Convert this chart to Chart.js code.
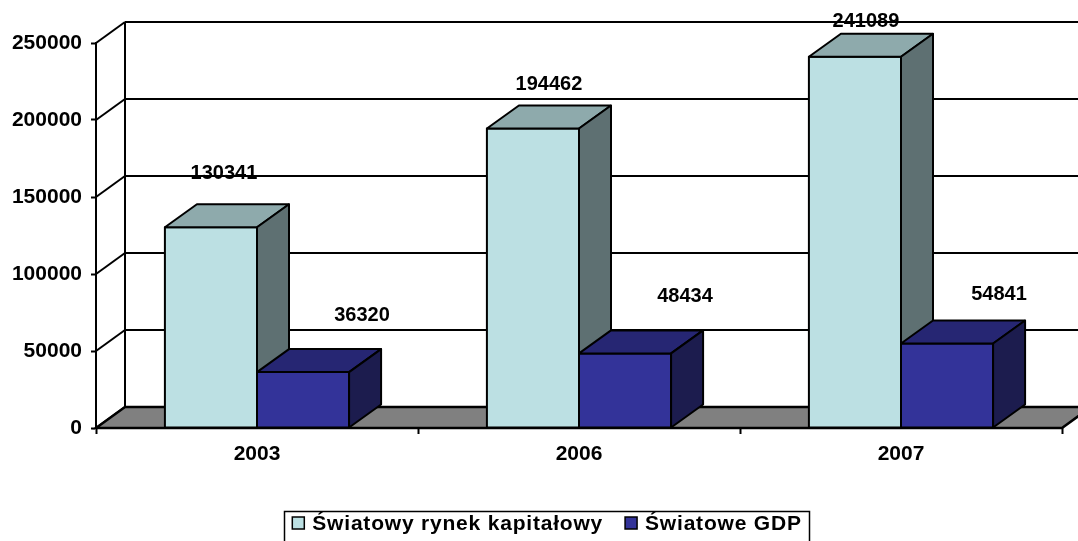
<!DOCTYPE html>
<html>
<head>
<meta charset="utf-8">
<title>Światowy rynek kapitałowy i GDP</title>
<style>
body {
	margin: 0;
	background: #fff;
}
#chart-box {
	width: 1078px;
	height: 541px;
}
</style>
</head>
<body>
<div id="chart-box"><canvas id="chart" width="1078" height="541"></canvas></div>
<script src="https://cdn.jsdelivr.net/npm/chart.js@4.4.1/dist/chart.umd.min.js"></script>
<script>
	var years = ['2003', '2006', '2007'];
	var capitalMarket = [130341, 194462, 241089];
	var worldGdp = [36320, 48434, 54841];
	var seriesNames = ['Światowy rynek kapitałowy', 'Światowe GDP'];

	// face colours per series: front, top, side
	var faces = [
		{front: '#bce0e3', top: '#8eaaac', side: '#5e7072'},
		{front: '#333399', top: '#262673', side: '#1c1c4e'}
	];
	// where each value label sits, relative to the top of the bar's front face
	var labelShift = [
		[[13, -54], [16, -44], [11, -35]],
		[[59, -57], [60, -57], [52, -49]]
	];

	var WALL_DX = 29, WALL_DY = -21;   // depth of walls and floor
	var BAR_DX = 32, BAR_DY = -23;     // depth of the boxes
	var FONT = "'Liberation Sans', Arial, sans-serif";

	function poly(ctx, pts, fill) {
		ctx.beginPath();
		ctx.moveTo(pts[0][0], pts[0][1]);
		for (var i = 1; i < pts.length; i++) ctx.lineTo(pts[i][0], pts[i][1]);
		ctx.closePath();
		if (fill) {
			ctx.fillStyle = fill;
			ctx.fill();
		}
		ctx.stroke();
	}

	function seg(ctx, x1, y1, x2, y2) {
		ctx.beginPath();
		ctx.moveTo(x1, y1);
		ctx.lineTo(x2, y2);
		ctx.stroke();
	}

	var box3d = {
		id: 'box3d',
		beforeDatasetsDraw: function(chart) {
			var ctx = chart.ctx, a = chart.chartArea, y = chart.scales.y;
			ctx.save();
			ctx.strokeStyle = '#000';
			ctx.lineWidth = 2;
			// side wall diagonals and back wall gridlines
			y.ticks.forEach(function(t) {
				var py = y.getPixelForValue(t.value);
				seg(ctx, a.left, py, a.left + WALL_DX, py + WALL_DY);
				if (t.value > 0) seg(ctx, a.left + WALL_DX, py + WALL_DY, a.right + WALL_DX + 40, py + WALL_DY);
			});
			seg(ctx, a.left + WALL_DX, a.top + WALL_DY, a.left + WALL_DX, a.bottom + WALL_DY);
			// floor
			ctx.lineWidth = 2.5;
			poly(ctx, [
				[a.left, a.bottom], [a.right, a.bottom],
				[a.right + WALL_DX, a.bottom + WALL_DY], [a.left + WALL_DX, a.bottom + WALL_DY]
			], '#808080');
			ctx.restore();
		},
		afterDatasetsDraw: function(chart) {
			var ctx = chart.ctx;
			ctx.save();
			ctx.strokeStyle = '#000';
			ctx.lineWidth = 2;
			ctx.lineJoin = 'round';
			// series in index order so the second box covers the first one's side
			chart.data.datasets.forEach(function(ds, di) {
				var c = faces[di];
				chart.getDatasetMeta(di).data.forEach(function(bar) {
					var l = bar.x - bar.width / 2, r = bar.x + bar.width / 2, t = bar.y, b = bar.base;
					poly(ctx, [[l, t], [r, t], [r, b], [l, b]], c.front);
					poly(ctx, [[l, t], [r, t], [r + BAR_DX, t + BAR_DY], [l + BAR_DX, t + BAR_DY]], c.top);
					poly(ctx, [[r, t], [r + BAR_DX, t + BAR_DY], [r + BAR_DX, b + BAR_DY], [r, b]], c.side);
				});
			});
			// value labels
			ctx.fillStyle = '#000';
			ctx.font = 'bold 20px ' + FONT;
			ctx.textAlign = 'center';
			ctx.textBaseline = 'middle';
			chart.data.datasets.forEach(function(ds, di) {
				chart.getDatasetMeta(di).data.forEach(function(bar, i) {
					var s = labelShift[di][i];
					ctx.fillText(String(ds.data[i]), bar.x + s[0], bar.y + s[1]);
				});
			});
			ctx.restore();
		},
		afterDraw: function(chart) {
			// boxed legend under the axis, centred a bit right of the middle
			var ctx = chart.ctx;
			var items = chart.data.datasets.map(function(ds) { return ds.label; });
			ctx.save();
			ctx.font = 'bold 21px ' + FONT;
			ctx.letterSpacing = '0.8px';
			var sq = 12, gapIn = 8, gapOut = 22, pad = 8;
			var widths = items.map(function(s) { return ctx.measureText(s).width; });
			var total = 0;
			widths.forEach(function(w, i) { total += sq + gapIn + w + (i ? 0 : gapOut); });
			var x = 547 - total / 2, cy = 523;
			ctx.strokeStyle = '#000';
			ctx.lineWidth = 1.5;
			ctx.strokeRect(Math.round(x - pad) + 0.5, 511.5, Math.round(total + 2 * pad), 40);
			ctx.textBaseline = 'middle';
			ctx.textAlign = 'left';
			items.forEach(function(s, i) {
				ctx.fillStyle = faces[i].front;
				ctx.fillRect(x, cy - sq / 2, sq, sq);
				ctx.lineWidth = 1.5;
				ctx.strokeRect(x, cy - sq / 2, sq, sq);
				ctx.fillStyle = '#000';
				ctx.fillText(s, x + sq + gapIn, cy + 1);
				x += sq + gapIn + widths[i] + gapOut;
			});
			ctx.restore();
		}
	};

	new Chart(document.getElementById('chart'), {
		type: 'bar',
		data: {
			labels: years,
			datasets: [
				{label: seriesNames[0], data: capitalMarket},
				{label: seriesNames[1], data: worldGdp}
			]
		},
		options: {
			responsive: false,
			animation: false,
			events: [],
			datasets: {
				bar: {
					backgroundColor: 'rgba(0,0,0,0)',
					borderWidth: 0,
					categoryPercentage: 0.572,
					barPercentage: 1
				}
			},
			layout: {
				padding: {top: 43, right: 16, left: 0, bottom: 0}
			},
			scales: {
				x: {
					grid: {
						offset: true,
						drawOnChartArea: false,
						tickLength: 6,
						tickWidth: 2,
						color: '#000'
					},
					border: {display: false},
					ticks: {
						color: '#000',
						padding: 8,
						font: {family: FONT, size: 21, weight: 'bold'}
					},
					afterFit: function(s) {
						s.height = 541 - 428;
					}
				},
				y: {
					min: 0,
					max: 250000,
					grid: {
						drawOnChartArea: false,
						tickLength: 5,
						tickWidth: 2,
						color: '#000'
					},
					border: {display: true, color: '#000', width: 2},
					ticks: {
						stepSize: 50000,
						color: '#000',
						padding: 9,
						font: {family: FONT, size: 21, weight: 'bold'},
						callback: function(v) { return String(v); }
					},
					afterFit: function(s) {
						s.width = 96;
					}
				}
			},
			plugins: {
				tooltip: {enabled: false},
				legend: {display: false}
			}
		},
		plugins: [box3d]
	});
</script>
</body>
</html>
